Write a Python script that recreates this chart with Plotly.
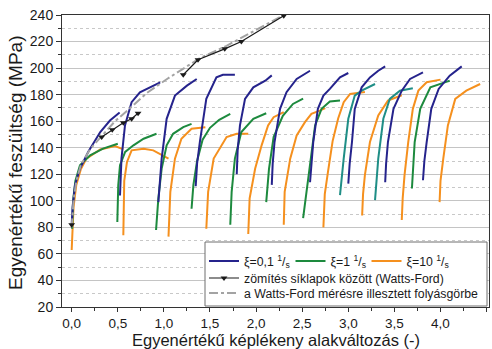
import plotly.graph_objects as go

# ---------------- data ----------------
# xi = 0.1 1/s  (10 reloading segments, separated by None)
blue_eps = [0.0, 0.01, 0.036, 0.09, 0.18, 0.31, 0.415, 0.52, None,
            0.524, 0.53, 0.54, 0.578, 0.65, 0.74, 0.85, 0.96, None,
            0.94, 0.955, 0.976, 1.03, 1.12, 1.25, 1.356, None,
            1.345, 1.36, 1.39, 1.46, 1.57, 1.64, 1.77, None,
            1.79, 1.80, 1.825, 1.88, 1.97, 2.1, 2.17, None,
            2.17, 2.18, 2.2, 2.26, 2.33, 2.44, 2.585, None,
            2.585, 2.6, 2.62, 2.67, 2.73, 2.8, 2.91, 3.0, None,
            3.0, 3.015, 3.04, 3.07, 3.145, 3.235, 3.325, 3.4, None,
            3.4, 3.41, 3.43, 3.49, 3.58, 3.67, 3.81, None,
            3.81, 3.825, 3.85, 3.9, 3.98, 4.1, 4.23]
blue_sig = [82, 95, 111.7, 124.3, 137, 151.8, 160.5, 166.5, None,
            104, 118, 131.8, 156.8, 174.3, 181.8, 185.5, 189.3, None,
            99, 115, 131.8, 161.8, 179.3, 186.8, 191.8, None,
            111, 128, 144.3, 176.8, 193, 195, 195, None,
            120, 138, 156.8, 176.8, 185.5, 190.5, 194.5, None,
            112, 128, 144.3, 169.3, 181.8, 191.8, 198, None,
            114, 130, 144.3, 169.3, 179.3, 184.3, 193, 196.3, None,
            113, 128, 144.3, 169.3, 185.5, 193, 198, 201.3, None,
            114, 128, 144.3, 169.3, 183, 191.8, 196.8, None,
            115.5, 130, 144.3, 169.3, 184.3, 194.3, 201.3]

# xi = 1 1/s
green_eps = [0.005, 0.015, 0.04, 0.09, 0.2, 0.34, 0.5, None,
             0.495, 0.5, 0.505, 0.524, 0.58, 0.67, 0.78, 0.92, None,
             0.915, 0.94, 0.976, 1.03, 1.1, 1.21, 1.3, None,
             1.3, 1.32, 1.36, 1.42, 1.5, 1.6, 1.72, None,
             1.72, 1.735, 1.77, 1.84, 1.97, 2.11, None,
             2.11, 2.14, 2.19, 2.29, 2.4, 2.51, None,
             2.51, 2.55, 2.585, 2.64, 2.71, 2.8, 2.91, None,
             3.69, 3.7, 3.72, 3.78, 3.89, 4.07, 4.1]
green_sig = [79, 100, 115, 126.8, 134.3, 139.3, 143, None,
             84, 100, 111.7, 126.8, 136.8, 141.8, 146.8, 150.5, None,
             78, 101.8, 124.3, 141.8, 150.5, 155.5, 158, None,
             94, 112, 130, 146, 155, 161, 165.5, None,
             82, 106.8, 131.8, 151.8, 161.8, 166, None,
             99, 124, 148, 164, 173, 177, None,
             87, 108, 124, 156.8, 169.3, 174.8, 175.5, None,
             109.3, 125, 144.3, 169.3, 185.5, 189.8, 190.5]
# two xi = 1 1/s segments that appear in a teal shade
teal_eps = [2.91, 2.93, 2.95, 3.0, 3.07, 3.145, 3.29, None,
            3.29, 3.305, 3.325, 3.38, 3.45, 3.56, 3.7]
teal_sig = [104.3, 120, 131.8, 161.8, 179.3, 183, 188, None,
            100.5, 118, 131.8, 161.8, 176.8, 183, 184.8]

# xi = 10 1/s
orange_eps = [0.0, 0.005, 0.02, 0.05, 0.1, 0.16, 0.31, 0.47, 0.56, None,
              0.56, 0.562, 0.57, 0.6, 0.65, 0.78, 0.885, 1.05, None,
              1.05, 1.06, 1.07, 1.12, 1.19, 1.3, 1.45, None,
              1.46, 1.48, 1.54, 1.63, 1.68, 1.79, 1.915, None,
              1.915, 1.93, 1.99, 2.06, 2.13, 2.19, 2.3, None,
              2.3, 2.31, 2.37, 2.44, 2.53, 2.6, 2.69, 2.75, None,
              2.73, 2.745, 2.78, 2.83, 2.89, 2.95, 3.02, 3.13, 3.18, None,
              3.15, 3.16, 3.18, 3.235, 3.325, 3.43, 3.58, None,
              3.58, 3.59, 3.61, 3.65, 3.7, 3.76, 3.85, 4.0, None,
              3.99, 4.0, 4.03, 4.08, 4.16, 4.28, 4.43]
orange_sig = [63, 75, 95, 112, 124, 131.8, 138.7, 141.3, 138.7, None,
              74, 95, 115, 129.3, 138, 139.3, 138, 131.8, None,
              73, 90, 106.8, 131.8, 146.8, 154.3, 155.5, None,
              79, 106.8, 131.8, 141.8, 148, 150.5, 150.5, None,
              75, 101.8, 124.3, 141.8, 156.8, 163, 166.8, None,
              82, 106.8, 131.8, 149.3, 159.3, 165.5, 168, 169.8, None,
              80, 105, 122, 145, 162, 174.3, 180.5, 181.8, 182, None,
              89, 105, 119.3, 144.3, 164.3, 175.5, 179.5, None,
              85.5, 102, 119.3, 144.3, 169.3, 183, 189.3, 191.3, None,
              99, 115, 131.8, 156.8, 176.8, 183, 188]

# compression between flat platens (Watts-Ford)
wf_eps = [0.0, None, 0.325, 0.44, 0.56, 0.65, 0.72, None,
          1.21, 1.37, 1.66, 1.84, 2.3]
wf_sig = [82, None, 148, 153.5, 158.8, 161.8, 166, None,
          195, 206.3, 214.5, 220, 239.5]

# flow curve fitted to the Watts-Ford measurement
fit_eps = [0.0, 0.02, 0.05, 0.1, 0.2, 0.34, 0.47, 0.63, 0.81, 1.05, 1.25,
           1.39, 1.68, 2.04, 2.3]
fit_sig = [80, 100, 115, 127, 139, 149.5, 160, 169.5, 181, 192.5, 201,
           207.5, 216.8, 230.5, 240]

x_tickvals = [0.0, 0.5, 1.0, 1.5, 2.0, 2.5, 3.0, 3.5, 4.0, 4.5]
x_ticktext = ["0,0", "0,5", "1,0", "1,5", "2,0", "2,5", "3,0", "3,5", "4,0", "4,5"]
x_minor = [0.25, 0.75, 1.25, 1.75, 2.25, 2.75, 3.25, 3.75, 4.25]
y_tickvals = [20, 40, 60, 80, 100, 120, 140, 160, 180, 200, 220, 240]
y_ticktext = [str(v) for v in y_tickvals]
y_minor = [30, 50, 70, 90, 110, 130, 150, 170, 190, 210, 230]

names = ["ξ=0,1 <sup>1</sup>/<sub>s</sub>", "ξ=1 <sup>1</sup>/<sub>s</sub>",
         "ξ=10 <sup>1</sup>/<sub>s</sub>",
         "zömítés síklapok között (Watts-Ford)",
         "a Watts-Ford mérésre illesztett folyásgörbe"]
x_title = "Egyenértékű képlékeny alakváltozás (-)"
y_title = "Egyenértékű feszültség (MPa)"

# ---------------- figure ----------------
BLUE = "#25238c"
GREEN = "#1d8a3e"
TEAL = "#1f8e86"
ORANGE = "#f5901e"
FONT = "Liberation Sans, Arial, sans-serif"

fig = go.Figure()
fig.add_trace(go.Scatter(x=orange_eps, y=orange_sig, mode="lines", name=names[2],
                         line=dict(color=ORANGE, width=2), legend="legend3"))
fig.add_trace(go.Scatter(x=green_eps, y=green_sig, mode="lines", name=names[1],
                         line=dict(color=GREEN, width=2), legend="legend2"))
fig.add_trace(go.Scatter(x=teal_eps, y=teal_sig, mode="lines", showlegend=False,
                         line=dict(color=TEAL, width=2)))
fig.add_trace(go.Scatter(x=blue_eps, y=blue_sig, mode="lines", name=names[0],
                         line=dict(color=BLUE, width=2), legend="legend"))
fig.add_trace(go.Scatter(x=fit_eps, y=fit_sig, mode="lines", name=names[4],
                         line=dict(color="#a3a3a3", width=2, dash="dashdot"),
                         legend="legend5"))
fig.add_trace(go.Scatter(x=wf_eps, y=wf_sig, mode="lines+markers", name=names[3],
                         line=dict(color="#1a1a1a", width=1.2),
                         marker=dict(symbol="triangle-down", size=6, color="#1a1a1a"),
                         legend="legend4"))

L, R, T, B = 62, 3, 15, 42
W, H = 492, 349
pw, ph = W - L - R, H - T - B


def px2x(px):
    return (px - L) / pw


def py2y(py):
    return (H - B - py) / ph


leg_common = dict(xanchor="left", yanchor="middle", bgcolor="rgba(0,0,0,0)",
                  borderwidth=0, itemwidth=30,
                  font=dict(family=FONT, size=12.3, color="#1a1a1a"))
line_starts = [(204, 261), (290.5, 261), (366.5, 261), (204, 278), (204, 293)]
legends = {}
for i, (lx, ly) in enumerate(line_starts):
    key = "legend" if i == 0 else f"legend{i + 1}"
    legends[key] = dict(x=px2x(lx), y=py2y(ly), **leg_common)

fig.update_layout(
    width=W, height=H,
    margin=dict(l=L, r=R, t=T, b=B, pad=0),
    paper_bgcolor="white", plot_bgcolor="white",
    font=dict(family=FONT, color="#1a1a1a"),
    **legends,
    shapes=[dict(type="rect", xref="paper", yref="paper",
                 x0=px2x(205), x1=px2x(487), y0=py2y(306), y1=py2y(242),
                 line=dict(color="#6e6e6e", width=1), fillcolor="white",
                 layer="above")],
    annotations=[
        dict(text=x_title, xref="paper", yref="paper",
             x=px2x(276), y=py2y(340), xanchor="center", yanchor="middle",
             showarrow=False,
             font=dict(size=16.5, family=FONT, color="#1a1a1a")),
        dict(text=y_title, xref="paper", yref="paper", textangle=-90,
             x=px2x(15), y=py2y(163), xanchor="center", yanchor="middle",
             showarrow=False,
             font=dict(size=19, family=FONT, color="#1a1a1a")),
    ],
    xaxis=dict(range=[-0.105, 4.526], tickvals=x_tickvals, ticktext=x_ticktext,
               showline=True, linecolor="#333", linewidth=1, mirror=True,
               ticks="outside", ticklen=4, tickcolor="#333",
               tickfont=dict(size=13.5, family=FONT, color="#1a1a1a"),
               showgrid=False, zeroline=False,
               minor=dict(tickvals=x_minor, ticks="outside", ticklen=3,
                          tickcolor="#333", showgrid=False)),
    yaxis=dict(range=[20, 240], tickvals=y_tickvals, ticktext=y_ticktext,
               showline=True, linecolor="#333", linewidth=1, mirror=True,
               ticks="outside", ticklen=5, tickcolor="#333",
               tickfont=dict(size=14, family=FONT, color="#1a1a1a"),
               showgrid=True, gridcolor="#c4c4c4", gridwidth=1.2, zeroline=False,
               minor=dict(tickvals=y_minor, ticks="outside", ticklen=3,
                          tickcolor="#333", showgrid=True, gridcolor="#c8c8c8",
                          griddash="dot", gridwidth=1)),
)

fig.write_html("out.html")
